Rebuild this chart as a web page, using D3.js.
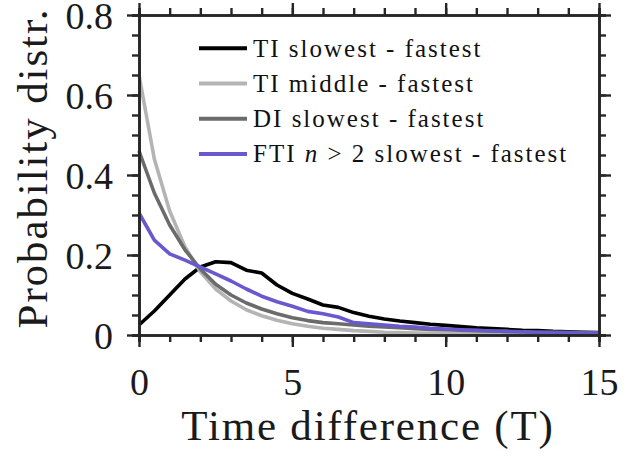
<!DOCTYPE html>
<html>
<head>
<meta charset="utf-8">
<script src="https://cdn.jsdelivr.net/npm/d3@7"></script>
</head>
<body style="margin:0">
<script>
// time axis, step 0.5 T
var times = d3.range(0, 15.01, 0.5)

// series values
var tiSlowest = [0.025, 0.06, 0.10, 0.14, 0.17, 0.183, 0.181, 0.162, 0.155, 0.125, 0.104, 0.09, 0.075, 0.069, 0.056, 0.047,
  0.04, 0.035, 0.031, 0.027, 0.024, 0.021, 0.018, 0.016, 0.014, 0.012, 0.011, 0.009, 0.008, 0.007, 0.006]
var tiMiddle = [0.65, 0.44, 0.31, 0.22, 0.158, 0.115, 0.085, 0.063, 0.048, 0.037, 0.028, 0.022, 0.017, 0.014, 0.011, 0.009,
  0.007, 0.006, 0.005, 0.004, 0.004, 0.003, 0.003, 0.003, 0.002, 0.002, 0.002, 0.002, 0.002, 0.002, 0.002]
var diSlowest = [0.46, 0.355, 0.275, 0.213, 0.165, 0.127, 0.10, 0.08, 0.065, 0.053, 0.043, 0.036, 0.031, 0.028, 0.025, 0.022,
  0.02, 0.018, 0.016, 0.014, 0.013, 0.012, 0.011, 0.01, 0.009, 0.008, 0.007, 0.007, 0.006, 0.006, 0.005]
var ftiSlowest = [0.305, 0.237, 0.203, 0.187, 0.17, 0.153, 0.135, 0.115, 0.097, 0.083, 0.072, 0.059, 0.053, 0.045, 0.031, 0.028,
  0.025, 0.022, 0.02, 0.017, 0.015, 0.013, 0.012, 0.01, 0.009, 0.008, 0.007, 0.006, 0.006, 0.005, 0.005]

var seriesNames = ["TI slowest - fastest", "TI middle - fastest", "DI slowest - fastest", "FTI n > 2 slowest - fastest"]
var seriesColors = ["#000000", "#b4b4b4", "#6b6b6b", "#6a58cf"]
var seriesValues = [tiSlowest, tiMiddle, diSlowest, ftiSlowest]

var xMajor = [0, 5, 10, 15]
var yMajor = [0, 0.2, 0.4, 0.6, 0.8]

var fontName = "Liberation Serif"
function serifFont() { return "'" + fontName + "'" }

var width = 643
    height = 456
var margin = {top: 15, right: 44, bottom: 121, left: 139}

var svg = d3.select("body")
  .append("svg")
    .attr("width", width)
    .attr("height", height)

var g = svg.append("g")
  .attr("transform", "translate(" + margin.left + "," + margin.top + ")")

var w = width - margin.left - margin.right
    h = height - margin.top - margin.bottom

var x = d3.scaleLinear().domain([0, 15]).range([0, w])
var y = d3.scaleLinear().domain([0, 0.8]).range([h, 0])

// lines
var line = d3.line()
  .x(function(d, i) { return x(times[i]) })
  .y(function(d) { return y(d) })

g.selectAll(".series")
  .data(seriesValues)
  .enter()
  .append("path")
    .attr("class", "series")
    .attr("d", line)
    .attr("fill", "none")
    .attr("stroke", function(d, i) { return seriesColors[i] })
    .attr("stroke-width", 3.6)
    .attr("stroke-linejoin", "round")

// axes: minor ticks, then major ticks with labels
var axisColor = "#262626"
var yFmt = function(d) { return d === 0 ? "0" : d3.format(".1f")(d) }

function styleAxis(sel) {
  sel.attr("font-family", null)
  sel.select(".domain").attr("stroke", axisColor).attr("stroke-width", 2.6)
  sel.selectAll(".tick line").attr("stroke", axisColor).attr("stroke-width", 2.4)
  sel.selectAll("text").attr("fill", "#1a1a1a").style("font-family", serifFont)
}

g.append("g").attr("transform", "translate(0," + h + ")")
  .call(d3.axisBottom(x).tickValues(d3.range(0, 16, 1)).tickSize(7).tickFormat(""))
  .call(styleAxis)
g.append("g").attr("transform", "translate(0," + h + ")")
  .call(d3.axisBottom(x).tickValues(xMajor).tickSize(12).tickSizeOuter(0).tickPadding(21).tickFormat(d3.format("d")))
  .call(styleAxis)
  .selectAll("text").attr("font-size", 38)

g.append("g")
  .call(d3.axisTop(x).tickValues(d3.range(0, 16, 1)).tickSize(7).tickFormat(""))
  .call(styleAxis)
g.append("g")
  .call(d3.axisTop(x).tickValues(xMajor).tickSize(12).tickSizeOuter(0).tickFormat(""))
  .call(styleAxis)

g.append("g")
  .call(d3.axisLeft(y).tickValues(d3.range(0, 0.801, 0.05)).tickSize(7).tickFormat(""))
  .call(styleAxis)
g.append("g")
  .call(d3.axisLeft(y).tickValues(yMajor).tickSize(12).tickSizeOuter(0).tickPadding(14).tickFormat(yFmt))
  .call(styleAxis)
  .selectAll("text").attr("font-size", 38).attr("dy", "0.36em")

g.append("g").attr("transform", "translate(" + w + ",0)")
  .call(d3.axisRight(y).tickValues(d3.range(0, 0.801, 0.05)).tickSize(7).tickFormat(""))
  .call(styleAxis)
g.append("g").attr("transform", "translate(" + w + ",0)")
  .call(d3.axisRight(y).tickValues(yMajor).tickSize(12).tickSizeOuter(0).tickFormat(""))
  .call(styleAxis)

// axis titles
svg.append("text")
  .attr("x", 368)
  .attr("y", 440)
  .attr("text-anchor", "middle")
  .attr("font-size", 43)
  .attr("letter-spacing", 1.8)
  .attr("fill", "#1a1a1a")
  .style("font-family", serifFont)
  .text("Time difference (T)")

svg.append("text")
  .attr("transform", "translate(47,168) rotate(-90)")
  .attr("text-anchor", "middle")
  .attr("font-size", 43)
  .attr("letter-spacing", 1.9)
  .attr("fill", "#1a1a1a")
  .style("font-family", serifFont)
  .text("Probability distr.")

// legend
var legend = g.append("g")
  .attr("transform", "translate(60,33.3)")

var rows = legend.selectAll(".row")
  .data(seriesNames)
  .enter()
  .append("g")
    .attr("transform", function(d, i) { return "translate(0," + i * 35.2 + ")" })

rows.append("line")
  .attr("x1", 0).attr("x2", 48)
  .attr("stroke", function(d, i) { return seriesColors[i] })
  .attr("stroke-width", 4)

var labels = rows.append("text")
  .attr("x", 54)
  .attr("dy", "0.33em")
  .attr("font-size", 25)
  .attr("letter-spacing", 2)
  .attr("fill", "#111")
  .style("font-family", serifFont)

labels.each(function(d) {
  var t = d3.select(this)
  if (d.indexOf("n > 2") >= 0) {
    t.append("tspan").text("FTI ")
    t.append("tspan").attr("font-style", "italic").text("n")
    t.append("tspan").text(" > 2 slowest - fastest")
  } else {
    t.text(d)
  }
})
</script>
</body>
</html>
